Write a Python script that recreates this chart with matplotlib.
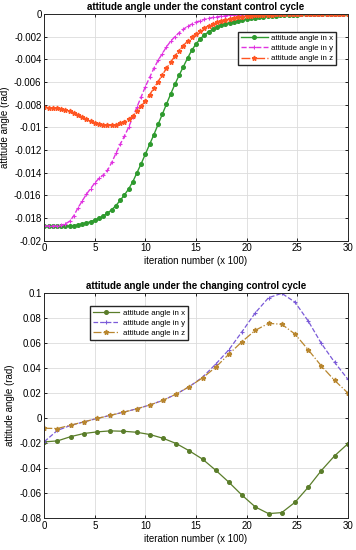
import numpy as np
import matplotlib
matplotlib.use("Agg")
import matplotlib.pyplot as plt

plt.rcParams["font.family"] = ["Liberation Sans", "DejaVu Sans"]

# ---- data: constant control cycle (73 samples over 0..30) ----
iter_const = np.linspace(0, 30, 73)

angle_x_const = [
    -0.0187, -0.0187, -0.0187, -0.0187, -0.0187, -0.0187, -0.0187, -0.01868,
    -0.01862, -0.01852, -0.01843, -0.01832, -0.01818, -0.01802, -0.01782, -0.01757,
    -0.01727, -0.01690, -0.01645, -0.01597, -0.01545, -0.01480, -0.01400, -0.01320,
    -0.01235, -0.01150, -0.01065, -0.00975, -0.00885, -0.00795, -0.00705, -0.00620,
    -0.00540, -0.00465, -0.00390, -0.00320, -0.00265, -0.00220, -0.00185, -0.00157,
    -0.00134, -0.00115, -0.00100, -0.00087, -0.00076, -0.00067, -0.00059, -0.00052,
    -0.00045, -0.00039, -0.00034, -0.00029, -0.00025, -0.00021, -0.00018, -0.00015,
    -0.00012, -0.00010, -0.00008, -0.00006, -0.00005, -0.00004, -0.00003, -0.00002,
    -0.00002, -0.00001, -0.00001, -0.00001, 0.0, 0.0, 0.0, 0.0, 0.0,
]

angle_y_const = [
    -0.0187, -0.0187, -0.0187, -0.0187, -0.01866, -0.0185, -0.0183, -0.0178,
    -0.0171, -0.0165, -0.0159, -0.0154, -0.0149, -0.0145, -0.0142, -0.0138,
    -0.0131, -0.0123, -0.0115, -0.0108, -0.0100, -0.0091, -0.0082, -0.0073,
    -0.0064, -0.0056, -0.0048, -0.0041, -0.0035, -0.0029, -0.0024, -0.0020,
    -0.00165, -0.00135, -0.0011, -0.0009, -0.00073, -0.00059, -0.00048, -0.00039,
    -0.00031, -0.00025, -0.0002, -0.00016, -0.00013, -0.0001, -0.00008, -0.00006,
    -0.00005, -0.00004, -0.00003, -0.00002, -0.00002, -0.00001, -0.00001, -0.00001,
    -0.00001, 0.0, 0.0, 0.0, 0.0, 0.0, 0.0, 0.0,
    0.0, 0.0, 0.0, 0.0, 0.0, 0.0, 0.0, 0.0, 0.0,
]

angle_z_const = [
    -0.00825, -0.00826, -0.00828, -0.00832, -0.00838, -0.00847, -0.00858, -0.00872,
    -0.00890, -0.00910, -0.00930, -0.00947, -0.00960, -0.00970, -0.00977, -0.00981,
    -0.00981, -0.00976, -0.00966, -0.00950, -0.00928, -0.00900, -0.00860, -0.00815,
    -0.00765, -0.00712, -0.00655, -0.00597, -0.00538, -0.00480, -0.00424, -0.00372,
    -0.00323, -0.00279, -0.00239, -0.00204, -0.00173, -0.00146, -0.00123, -0.00103,
    -0.00086, -0.00072, -0.0006, -0.0005, -0.00041, -0.00034, -0.00028, -0.00023,
    -0.00019, -0.00015, -0.00012, -0.0001, -0.00008, -0.00006, -0.00005, -0.00004,
    -0.00003, -0.00002, -0.00002, -0.00001, -0.00001, -0.00001, 0.0, 0.0,
    0.0, 0.0, 0.0, 0.0, 0.0, 0.0, 0.0, 0.0, 0.0,
]

# ---- data: changing control cycle (24 samples over 0..30) ----
iter_change = np.linspace(0, 30, 24)

angle_x_change = [
    -0.0192, -0.0184, -0.0150, -0.0125, -0.0112, -0.0104, -0.0107, -0.0115,
    -0.0133, -0.0163, -0.0205, -0.0264, -0.0330, -0.0419, -0.0515, -0.0619,
    -0.0712, -0.0765, -0.0757, -0.0675, -0.0555, -0.0421, -0.0304, -0.0208,
]

angle_y_change = [
    -0.0190, -0.0100, -0.0060, -0.0032, -0.0005, 0.0020, 0.0045, 0.0072,
    0.0103, 0.0140, 0.0190, 0.0250, 0.0325, 0.0430, 0.0545, 0.0690,
    0.0840, 0.0960, 0.0995, 0.0925, 0.0775, 0.0595, 0.0445, 0.0310,
]

angle_z_change = [
    -0.0083, -0.0085, -0.0058, -0.0032, -0.0005, 0.0020, 0.0045, 0.0072,
    0.0103, 0.0140, 0.0190, 0.0250, 0.0320, 0.0405, 0.0510, 0.0610,
    0.0700, 0.0755, 0.0748, 0.0670, 0.0545, 0.0415, 0.0300, 0.0200,
]

labels = ["attitude angle in x", "attitude angle in y", "attitude angle in z"]


def style_axes(ax, title):
    ax.set_title(title, fontsize=7, fontweight="bold", pad=3)
    ax.set_xlabel("iteration number (x 100)", fontsize=7, labelpad=2)
    ax.set_ylabel("attitude angle (rad)", fontsize=7, labelpad=3)
    ax.set_xlim(0, 30)
    ax.set_xticks([0, 5, 10, 15, 20, 25, 30])
    ax.grid(True, color="#dcdcdc", linewidth=0.6)
    ax.set_axisbelow(True)
    ax.tick_params(direction="in", top=True, right=True, labelsize=7,
                   length=2.5, width=0.6, pad=2)
    for sp in ax.spines.values():
        sp.set_linewidth(0.7)
        sp.set_color("#262626")


def add_legend(ax, loc, anchor):
    ax.legend(loc=loc, bbox_to_anchor=anchor, fontsize=5.7,
              frameon=True, fancybox=False, edgecolor="#262626", framealpha=1,
              handlelength=3.4, borderpad=0.35, labelspacing=0.33,
              handletextpad=0.45, borderaxespad=0)


fig = plt.figure(figsize=(3.56, 5.5), dpi=100)
ax1 = fig.add_axes([0.1244, 0.5624, 0.8523, 0.4122])
ax2 = fig.add_axes([0.1244, 0.0582, 0.8523, 0.4096])

# --- top: constant control cycle ---
ax1.plot(iter_const, angle_x_const, "-o", color="#2e9a2e", lw=1.0, ms=2.6,
         label=labels[0])
ax1.plot(iter_const, angle_y_const, "--+", color="#e033e0", lw=1.0, ms=3.5,
         mew=0.8, label=labels[1])
ax1.plot(iter_const, angle_z_const, "-.*", color="#ff5522", lw=1.0, ms=3.5,
         label=labels[2])
ax1.set_ylim(-0.02, 0)
ax1.set_yticks([-0.02, -0.018, -0.016, -0.014, -0.012, -0.01, -0.008,
                -0.006, -0.004, -0.002, 0])
ax1.set_yticklabels(["-0.02", "-0.018", "-0.016", "-0.014", "-0.012", "-0.01",
                     "-0.008", "-0.006", "-0.004", "-0.002", "0"])
style_axes(ax1, "attitude angle under the constant control cycle")
add_legend(ax1, "upper right", (0.9614, 0.922))

# --- bottom: changing control cycle ---
ax2.plot(iter_change, angle_x_change, "-o", color="#5a7d2a", lw=0.9, ms=2.6,
         label=labels[0])
ax2.plot(iter_change, angle_y_change, "--+", color="#7a5ad8", lw=0.9, ms=3.5,
         mew=0.8, label=labels[1])
ax2.plot(iter_change, angle_z_change, "-.*", color="#b8862e", lw=0.9, ms=3.5,
         label=labels[2])
ax2.set_ylim(-0.08, 0.1)
ax2.set_yticks([-0.08, -0.06, -0.04, -0.02, 0, 0.02, 0.04, 0.06, 0.08, 0.1])
ax2.set_yticklabels(["-0.08", "-0.06", "-0.04", "-0.02", "0", "0.02", "0.04",
                     "0.06", "0.08", "0.1"])
style_axes(ax2, "attitude angle under the changing control cycle")
add_legend(ax2, "upper left", (0.150, 0.94))

fig.savefig("out.png", dpi=100)
